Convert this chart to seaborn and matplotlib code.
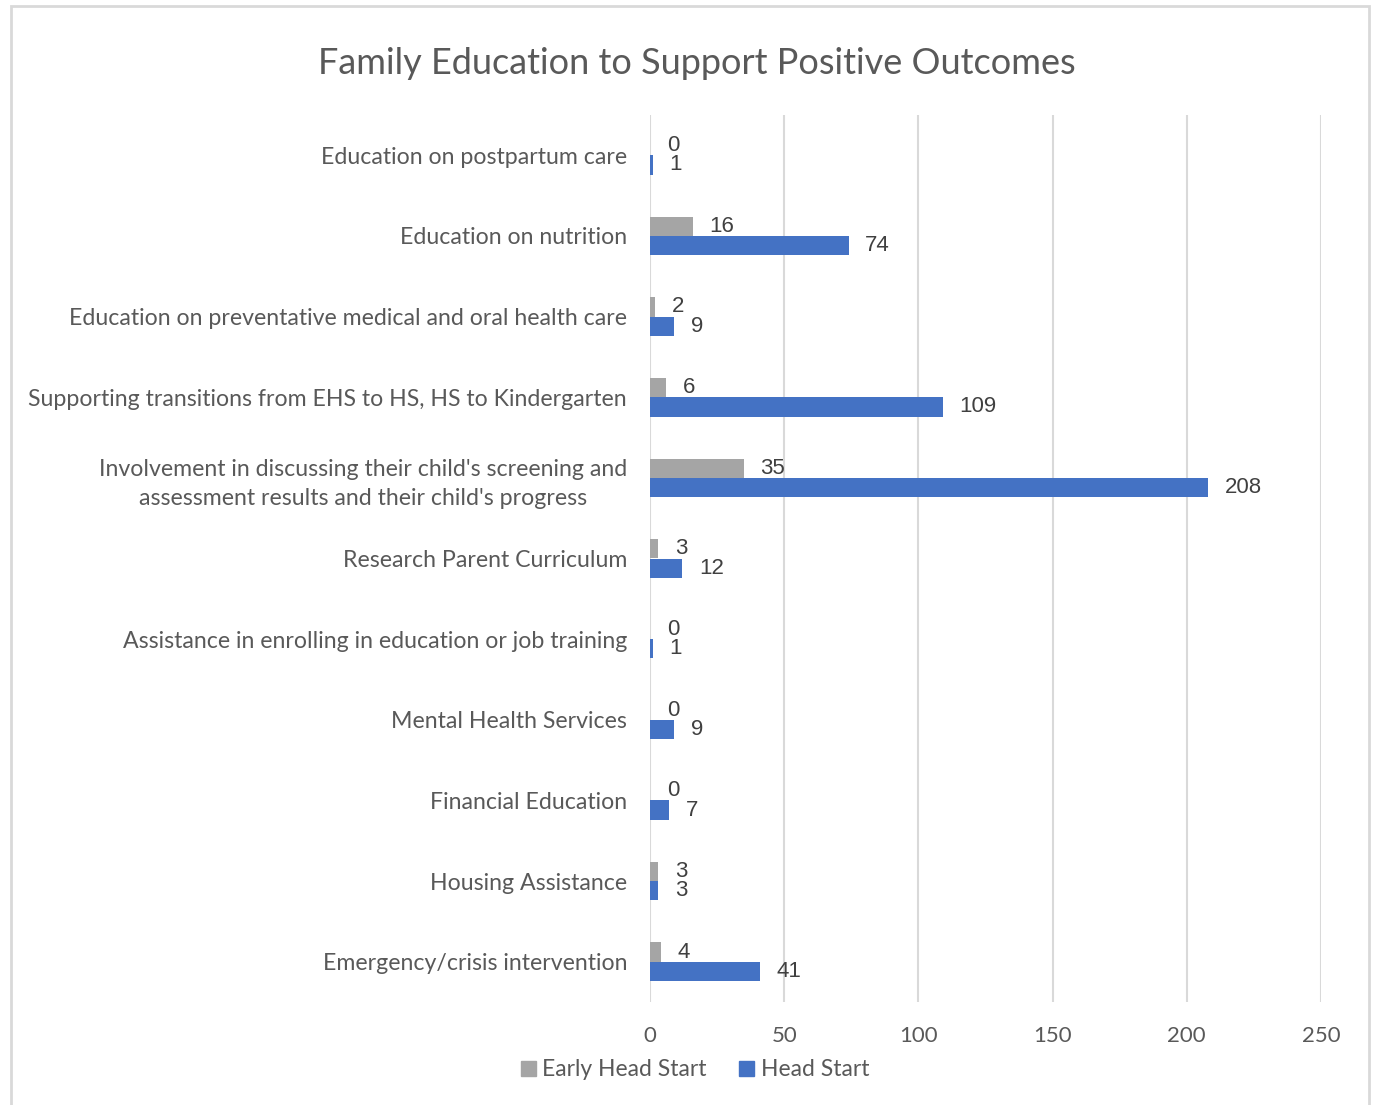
import matplotlib
matplotlib.use("Agg")
import matplotlib.pyplot as plt
from matplotlib.patches import Rectangle
import pandas as pd
import seaborn as sns

# ---------------------------------------------------------------------------
# Data
# ---------------------------------------------------------------------------
TITLE = "Family Education to Support Positive Outcomes"

CATEGORIES = [
    "Education on postpartum care",
    "Education on nutrition",
    "Education on preventative medical and oral health care",
    "Supporting transitions from EHS to HS, HS to Kindergarten",
    "Involvement in discussing their child's screening and\nassessment results and their child's progress",
    "Research Parent Curriculum",
    "Assistance in enrolling in education or job training",
    "Mental Health Services",
    "Financial Education",
    "Housing Assistance",
    "Emergency/crisis intervention",
]
SERIES = ["Early Head Start", "Head Start"]
EARLY_HEAD_START = [0, 16, 2, 6, 35, 3, 0, 0, 0, 3, 4]
HEAD_START = [1, 74, 9, 109, 208, 12, 1, 9, 7, 3, 41]
X_TICKS = [0, 50, 100, 150, 200, 250]

COLORS = ["#A5A5A5", "#4472C4"]
TEXT = "#595959"
LABEL = "#404040"
GRID = "#D9D9D9"

df = pd.DataFrame({
    "category": CATEGORIES * 2,
    "value": EARLY_HEAD_START + HEAD_START,
    "series": [SERIES[0]] * len(CATEGORIES) + [SERIES[1]] * len(CATEGORIES),
})

sns.set_theme(style="white")
plt.rcParams["font.family"] = ["Lato", "DejaVu Sans"]

W, H = 1376, 1105
fig = plt.figure(figsize=(W / 100, H / 100), dpi=100)
ax = fig.add_axes([650 / W, 1 - 1002 / H, (1321 - 650) / W, (1002 - 115) / H])

sns.barplot(
    data=df, y="category", x="value", hue="series", orient="h",
    order=CATEGORIES, hue_order=SERIES, palette=COLORS, saturation=1,
    width=0.48, linewidth=0, ax=ax, legend=False,
)

for c in ax.containers:
    ax.bar_label(c, padding=12, fontsize=16, color=LABEL,
                 family=["Liberation Sans", "DejaVu Sans"])

ax.set_xlim(0, 250)
ax.set_xticks(X_TICKS)
ax.set_ylim(len(CATEGORIES) - 0.5, -0.5)
ax.xaxis.grid(True, color=GRID, linewidth=1.5)
ax.set_axisbelow(True)
for s in ax.spines.values():
    s.set_visible(False)
ax.set_xlabel("")
ax.set_ylabel("")
ax.tick_params(axis="y", length=0, pad=16.5, labelsize=16.7, labelcolor=TEXT)
ax.tick_params(axis="x", length=0, pad=17, labelsize=16, labelcolor=TEXT)
for lbl in ax.get_yticklabels():
    lbl.set_multialignment("center")
    lbl.set_linespacing(1.45)

fig.text(697 / W, 1 - 63 / H, TITLE, ha="center", va="center",
         fontsize=26, color=TEXT)

handles = [Rectangle((0, 0), 1, 1, color=col) for col in COLORS]
fig.legend(handles, SERIES, loc="center", bbox_to_anchor=(695 / W, 1 - 1070 / H),
           ncol=2, frameon=False, fontsize=16.5, labelcolor=TEXT,
           handlelength=0.65, handleheight=0.65, handletextpad=0.3,
           columnspacing=1.4)

fig.patches.append(Rectangle((11 / W, -0.01), (1369 - 11) / W, 1.01 - 6 / H,
                             transform=fig.transFigure, fill=False,
                             edgecolor=GRID, linewidth=2))

fig.savefig("out.png", dpi=100)
